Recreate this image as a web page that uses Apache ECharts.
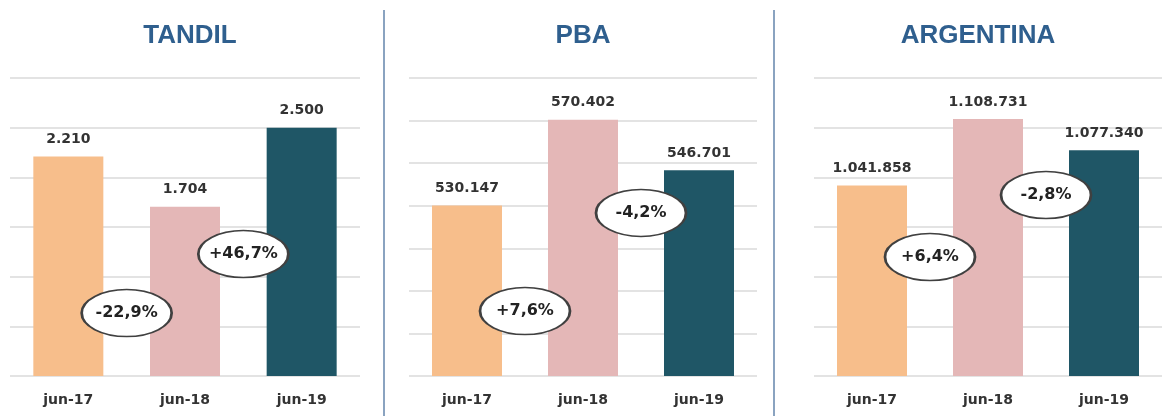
<!DOCTYPE html>
<html>
<head>
<meta charset="utf-8">
<script src="https://cdn.jsdelivr.net/npm/echarts@6/dist/echarts.min.js"></script>
<style>
    html, body {margin:0;padding:0;background:#fff}
    #chart {width:1162px;height:416px}
</style>
</head>
<body>
<div id="chart"></div>
<script>
    var categories = ['jun-17', 'jun-18', 'jun-19'];
    var tandilValues = [2210, 1704, 2500];
    var pbaValues = [530147, 570402, 546701];
    var argentinaValues = [1041858, 1108731, 1077340];
    var tandilChanges = ['-22,9%', '+46,7%'];
    var pbaChanges = ['+7,6%', '-4,2%'];
    var argentinaChanges = ['+6,4%', '-2,8%'];

    var barColors = ['#F7BE8B', '#E4B7B7', '#1F5666'];
    var gridColor = '#DADADA';
    var ellipsePath = 'path://M0,50A100,50 0 1,1 200,50A100,50 0 1,1 0,50Z';

    // layout of each panel (axis range, grid box, title x, height of the % badges)
    var panels = [
        {title: 'TANDIL', values: tandilValues, changes: tandilChanges,
            min: 0, max: 3000, steps: 6, left: 10, width: 350, titleX: 185, badgeY: [634, 1228]},
        {title: 'PBA', values: pbaValues, changes: pbaChanges,
            min: 450000, max: 590000, steps: 7, left: 409, width: 348, titleX: 578, badgeY: [480500, 526600]},
        {title: 'ARGENTINA', values: argentinaValues, changes: argentinaChanges,
            min: 850000, max: 1150000, steps: 6, left: 814, width: 348, titleX: 973, badgeY: [969800, 1032200]}
    ];

    function fmt(v) {
        return String(v).replace(/\B(?=(\d{3})+(?!\d))/g, '.');
    }

    var titles = [], grids = [], xAxes = [], yAxes = [], series = [];

    panels.forEach(function (p, i) {
        titles.push({
            text: p.title,
            left: p.titleX,
            top: 18,
            textAlign: 'center',
            textStyle: {fontFamily: 'Liberation Sans', fontWeight: 'bold', fontSize: 26, color: '#2F5F8E'}
        });
        grids.push({left: p.left, width: p.width, top: 78, bottom: 40});

        xAxes.push({
            type: 'category', gridIndex: i, data: categories,
            axisLine: {show: false}, axisTick: {show: false},
            axisLabel: {margin: 17, fontFamily: 'DejaVu Sans', fontWeight: 'bold', fontSize: 14, color: '#333'}
        });
        xAxes.push({type: 'value', gridIndex: i, min: -0.5, max: 2.5, show: false});

        yAxes.push({
            type: 'value', gridIndex: i, min: p.min, max: p.max,
            axisLabel: {show: false}, axisLine: {show: false}, axisTick: {show: false},
            splitLine: {show: false}
        });
        // gridlines only
        yAxes.push({
            type: 'value', gridIndex: i, min: 0, max: p.steps, interval: 1,
            axisLabel: {show: false}, axisLine: {show: false}, axisTick: {show: false},
            splitLine: {show: true, lineStyle: {color: gridColor, width: 1.5}}
        });

        series.push({
            type: 'bar', xAxisIndex: 2 * i, yAxisIndex: 2 * i,
            barWidth: 70,
            data: p.values.map(function (v, k) {
                return {value: v, itemStyle: {color: barColors[k]}};
            }),
            label: {
                show: true, position: 'top', distance: 10,
                formatter: function (d) { return fmt(d.value); },
                fontFamily: 'DejaVu Sans', fontWeight: 'bold', fontSize: 14, color: '#333'
            },
            z: 2
        });

        series.push({
            type: 'scatter', xAxisIndex: 2 * i + 1, yAxisIndex: 2 * i,
            symbol: ellipsePath, symbolSize: [90, 47],
            data: p.changes.map(function (c, k) {
                return {name: c, value: [k + 0.5, p.badgeY[k]]};
            }),
            itemStyle: {color: '#fff', borderColor: '#404040', borderWidth: 2, opacity: 1},
            label: {
                show: true, position: 'inside', formatter: '{b}',
                fontFamily: 'DejaVu Sans', fontWeight: 'bold', fontSize: 16, color: '#222'
            },
            z: 5
        });
    });

    var chart = echarts.init(document.getElementById('chart'));
    chart.setOption({
        animation: false,
        backgroundColor: '#fff',
        title: titles,
        grid: grids,
        xAxis: xAxes,
        yAxis: yAxes,
        series: series,
        graphic: [
            {type: 'line', shape: {x1: 384, y1: 10, x2: 384, y2: 416}, style: {stroke: '#8AA3C0', lineWidth: 2}},
            {type: 'line', shape: {x1: 774, y1: 10, x2: 774, y2: 416}, style: {stroke: '#8AA3C0', lineWidth: 2}}
        ]
    });
</script>
</body>
</html>
